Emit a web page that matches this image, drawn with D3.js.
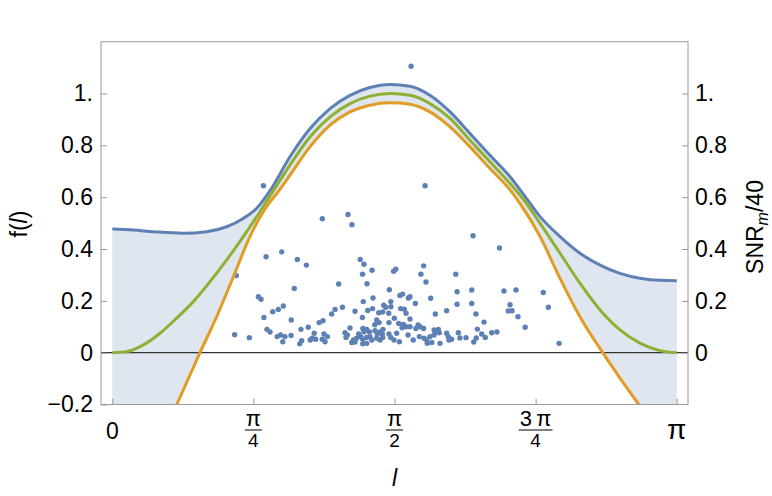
<!DOCTYPE html>
<html>
<head>
<meta charset="utf-8">
<script src="https://cdn.jsdelivr.net/npm/d3@7"></script>
<style>
    body { margin: 0; background: #fff; }
    text { font-family: "Liberation Sans", Arial, sans-serif; fill: #000; }
</style>
</head>
<body>
<div id="vis"></div>
<script>
// curves, [l in radians, value]
const upperCurve = [
    [0, 0.477], [0.117, 0.473], [0.228, 0.467], [0.395, 0.461], [0.525, 0.467],
    [0.637, 0.486], [0.729, 0.518], [0.804, 0.557], [0.878, 0.625], [0.989, 0.756],
    [1.101, 0.865], [1.212, 0.942], [1.323, 0.993], [1.434, 1.023], [1.546, 1.035],
    [1.657, 1.028], [1.768, 0.993], [1.880, 0.929], [1.991, 0.846], [2.102, 0.762],
    [2.214, 0.679], [2.290, 0.610], [2.381, 0.525], [2.492, 0.448], [2.603, 0.384],
    [2.715, 0.338], [2.826, 0.306], [2.937, 0.287], [3.048, 0.279], [3.142, 0.278]
];

const middleCurve = [
    [0, 0], [0.080, 0.004], [0.173, 0.030], [0.266, 0.075], [0.358, 0.133],
    [0.451, 0.197], [0.544, 0.274], [0.637, 0.358], [0.729, 0.448], [0.822, 0.544],
    [0.878, 0.605], [0.989, 0.724], [1.101, 0.833], [1.212, 0.910], [1.323, 0.961],
    [1.434, 0.990], [1.546, 1.000], [1.657, 0.993], [1.768, 0.961], [1.880, 0.904],
    [1.991, 0.820], [2.102, 0.737], [2.214, 0.653], [2.288, 0.592], [2.381, 0.499],
    [2.492, 0.384], [2.603, 0.268], [2.715, 0.165], [2.826, 0.088], [2.937, 0.037],
    [3.048, 0.008], [3.142, 0]
];

const lowerCurve = [
    [0.358, -0.201], [0.488, 0], [0.581, 0.139], [0.674, 0.293], [0.766, 0.448],
    [0.841, 0.545], [0.933, 0.630], [0.989, 0.685], [1.101, 0.795], [1.212, 0.878],
    [1.323, 0.929], [1.434, 0.955], [1.546, 0.964], [1.657, 0.959], [1.768, 0.929],
    [1.880, 0.871], [1.991, 0.794], [2.102, 0.711], [2.214, 0.628], [2.270, 0.575],
    [2.381, 0.448], [2.492, 0.287], [2.603, 0.139], [2.730, 0], [2.826, -0.098],
    [2.932, -0.201]
];

// measured SNR_m / 40 per source
const snrPoints = [
    [1.663, 1.105], [1.741, 0.644], [0.841, 0.644], [1.169, 0.517], [1.312, 0.533],
    [1.334, 0.494], [2.008, 0.451], [2.155, 0.404], [0.856, 0.370], [0.943, 0.389],
    [1.030, 0.360], [1.080, 0.338], [0.690, 0.298], [1.013, 0.248], [1.260, 0.265],
    [0.813, 0.216], [0.828, 0.206], [0.952, 0.180], [0.924, 0.167], [0.893, 0.158],
    [0.844, 0.136], [1.281, 0.175], [1.240, 0.167], [1.221, 0.149], [0.996, 0.126],
    [1.173, 0.123], [1.151, 0.116], [0.861, 0.090], [0.878, 0.080], [1.091, 0.098],
    [1.050, 0.090], [0.681, 0.069], [0.763, 0.058], [0.918, 0.062], [0.937, 0.068],
    [0.961, 0.062], [0.995, 0.066], [0.949, 0.042], [1.124, 0.075], [1.113, 0.056],
    [1.132, 0.052], [1.102, 0.049], [1.054, 0.046], [1.043, 0.034], [1.178, 0.072],
    [1.197, 0.062], [1.169, 0.052], [1.184, 0.042], [1.380, 0.360], [1.401, 0.341],
    [1.446, 0.318], [1.393, 0.303], [1.418, 0.266], [1.578, 0.322], [1.566, 0.314],
    [1.542, 0.243], [1.451, 0.211], [1.397, 0.197], [1.601, 0.221], [1.733, 0.335],
    [1.718, 0.303], [1.746, 0.273], [1.616, 0.226], [1.648, 0.211], [1.657, 0.216],
    [1.772, 0.210], [1.550, 0.197], [1.687, 0.190], [1.351, 0.160], [1.422, 0.163],
    [1.449, 0.170], [1.511, 0.183], [1.522, 0.175], [1.551, 0.177], [1.605, 0.170],
    [1.625, 0.168], [1.483, 0.154], [1.505, 0.157], [1.539, 0.152], [1.635, 0.152],
    [1.861, 0.162], [1.798, 0.149], [1.392, 0.136], [1.570, 0.133], [1.657, 0.130],
    [1.472, 0.126], [1.485, 0.116], [1.461, 0.108], [1.540, 0.116], [1.594, 0.113],
    [1.620, 0.109], [1.635, 0.100], [1.657, 0.100], [1.613, 0.096], [1.702, 0.107],
    [1.713, 0.100], [1.690, 0.093], [1.733, 0.093], [1.323, 0.095], [1.395, 0.093],
    [1.416, 0.090], [1.401, 0.081], [1.431, 0.080], [1.462, 0.085], [1.490, 0.080],
    [1.475, 0.072], [1.507, 0.090], [1.503, 0.072], [1.791, 0.088], [1.815, 0.090],
    [1.798, 0.079], [1.820, 0.077], [1.295, 0.077], [1.308, 0.068], [1.301, 0.059],
    [1.372, 0.072], [1.383, 0.062], [1.360, 0.056], [1.394, 0.052], [1.416, 0.059],
    [1.434, 0.062], [1.444, 0.049], [1.540, 0.072], [1.550, 0.059], [1.583, 0.075],
    [1.568, 0.049], [1.646, 0.068], [1.709, 0.062], [1.735, 0.056], [1.750, 0.049],
    [1.768, 0.062], [1.791, 0.068], [1.342, 0.049], [1.351, 0.041], [1.333, 0.039],
    [1.394, 0.034], [1.416, 0.036], [1.472, 0.056], [1.490, 0.049], [1.505, 0.059],
    [1.598, 0.042], [1.675, 0.049], [1.778, 0.039], [1.753, 0.036], [1.824, 0.036],
    [1.912, 0.303], [1.919, 0.235], [2.001, 0.242], [2.180, 0.238], [2.247, 0.242],
    [2.399, 0.232], [1.919, 0.187], [2.001, 0.190], [2.214, 0.185], [2.204, 0.161],
    [2.225, 0.162], [2.427, 0.175], [2.024, 0.149], [2.258, 0.139], [2.069, 0.118],
    [2.298, 0.098], [2.032, 0.091], [1.926, 0.077], [2.112, 0.077], [2.141, 0.080],
    [2.056, 0.072], [1.861, 0.075], [1.870, 0.062], [1.889, 0.052], [1.874, 0.049],
    [1.935, 0.057], [1.969, 0.058], [2.026, 0.057], [2.012, 0.041], [2.076, 0.059],
    [2.487, 0.036]
];

// ticks
const yTicksLeft = [-0.2, 0, 0.2, 0.4, 0.6, 0.8, 1];
const yTicksRight = [0, 0.2, 0.4, 0.6, 0.8, 1];
const yTickText = d => d === 1 ? "1." : d < 0 ? "\u2212" + Math.abs(d) : String(d);
const xTicks = [0, Math.PI / 4, Math.PI / 2, 3 * Math.PI / 4, Math.PI];
const xTickNum = ["0", "\u03c0", "\u03c0", "3\u2009\u03c0", "\u03c0"];
const xTickDen = [null, "4", "2", "4", null];

const width = 772;
const height = 496;
const plot = { left: 101, right: 688, top: 41.7, bottom: 404.5 };

const BLUE = "#5e81b5", ORANGE = "#e19c24", GREEN = "#8fb032";

const svg = d3.select("#vis").append("svg")
    .attr("width", width)
    .attr("height", height);

const x = d3.scaleLinear()
    .domain([-0.02 * Math.PI, 1.02 * Math.PI])
    .range([plot.left, plot.right]);

const y = d3.scaleLinear()
    .domain([-0.2, 1.2])
    .range([plot.bottom, plot.top]);

const defs = svg.append("defs");
defs.append("clipPath").attr("id", "plot-clip")
    .append("rect")
    .attr("x", plot.left).attr("y", plot.top)
    .attr("width", plot.right - plot.left)
    .attr("height", plot.bottom - plot.top);

const line = d3.line()
    .x(d => x(d[0]))
    .y(d => y(d[1]))
    .curve(d3.curveMonotoneX);

// clip region = everything above the orange curve, so the fill sits between blue and orange
const lowerPath = line(lowerCurve).replace(/^M/, "L");
defs.append("clipPath").attr("id", "above-lower")
    .append("path")
    .attr("d", `M${plot.left},${plot.bottom + 20}` + lowerPath +
        `L${plot.right},${plot.bottom + 20}L${plot.right},${plot.top}L${plot.left},${plot.top}Z`);

const g = svg.append("g").attr("clip-path", "url(#plot-clip)");

const area = d3.area()
    .x(d => x(d[0]))
    .y0(y(-0.2))
    .y1(d => y(d[1]))
    .curve(d3.curveMonotoneX);

g.append("g").attr("clip-path", "url(#above-lower)")
    .append("path")
    .attr("d", area(upperCurve))
    .attr("fill", "#dfe6f0");

// zero line
g.append("line")
    .attr("x1", plot.left).attr("x2", plot.right)
    .attr("y1", y(0)).attr("y2", y(0))
    .attr("stroke", "#333")
    .attr("stroke-width", 1.3);

g.append("g")
    .selectAll("circle")
    .data(snrPoints)
    .join("circle")
    .attr("cx", d => x(d[0]))
    .attr("cy", d => y(d[1]))
    .attr("r", 2.7)
    .attr("fill", BLUE);

[[upperCurve, BLUE], [middleCurve, GREEN], [lowerCurve, ORANGE]].forEach(([data, color]) => {
    g.append("path")
        .attr("d", line(data))
        .attr("fill", "none")
        .attr("stroke", color)
        .attr("stroke-width", 3);
});

// axes (ticks point inward, frame drawn separately)
const styleAxis = sel => {
    sel.select(".domain").remove();
    sel.selectAll(".tick line").attr("stroke", "#999").attr("stroke-width", 1);
    sel.selectAll(".tick text").attr("font-size", 23).attr("fill", "#000")
        .attr("font-family", '"Liberation Sans", Arial, sans-serif');
};

svg.append("g")
    .attr("transform", `translate(${plot.left},0)`)
    .call(d3.axisLeft(y).tickValues(yTicksLeft).tickFormat(yTickText)
        .tickSizeInner(-6).tickSizeOuter(0).tickPadding(8))
    .call(styleAxis);

svg.append("g")
    .attr("transform", `translate(${plot.right},0)`)
    .call(d3.axisRight(y).tickValues(yTicksRight).tickFormat(yTickText)
        .tickSizeInner(-6).tickSizeOuter(0).tickPadding(7))
    .call(styleAxis);

svg.append("g")
    .attr("transform", `translate(0,${plot.bottom})`)
    .call(d3.axisBottom(x).tickValues(xTicks).tickFormat("")
        .tickSizeInner(-6).tickSizeOuter(0))
    .call(styleAxis);

// frame
svg.append("rect")
    .attr("x", plot.left).attr("y", plot.top)
    .attr("width", plot.right - plot.left)
    .attr("height", plot.bottom - plot.top)
    .attr("fill", "none")
    .attr("stroke", "#999")
    .attr("stroke-width", 1);

// x tick labels, fractions of pi
const xLab = svg.append("g");
xTicks.forEach((t, i) => {
    const cx = x(t);
    if (xTickDen[i] === null) {
        xLab.append("text")
            .attr("x", cx).attr("y", 439)
            .attr("text-anchor", "middle")
            .attr("font-size", i === 0 ? 23 : 28)
            .text(xTickNum[i]);
        return;
    }
    const num = xLab.append("text")
        .attr("x", cx).attr("y", 426)
        .attr("text-anchor", "middle")
        .attr("font-size", 22)
        .text(xTickNum[i]);
    const w = num.node().getComputedTextLength();
    xLab.append("line")
        .attr("x1", cx - w / 2 - 1).attr("x2", cx + w / 2 + 1)
        .attr("y1", 430).attr("y2", 430)
        .attr("stroke", "#000").attr("stroke-width", 1);
    xLab.append("text")
        .attr("x", cx).attr("y", 447)
        .attr("text-anchor", "middle")
        .attr("font-size", 19)
        .text(xTickDen[i]);
});

// axis titles
svg.append("text")
    .attr("x", x(Math.PI / 2)).attr("y", 486)
    .attr("text-anchor", "middle")
    .attr("font-size", 23)
    .attr("font-style", "italic")
    .text("l");

const fLabel = svg.append("text")
    .attr("transform", `translate(27,224) rotate(-90)`)
    .attr("text-anchor", "middle")
    .attr("font-size", 23);
fLabel.append("tspan").text("f(");
fLabel.append("tspan").attr("font-style", "italic").text("l");
fLabel.append("tspan").text(")");

const snrLabel = svg.append("text")
    .attr("transform", `translate(763,227) rotate(-90)`)
    .attr("text-anchor", "middle")
    .attr("font-size", 23);
snrLabel.append("tspan").text("SNR");
snrLabel.append("tspan").attr("font-style", "italic").attr("font-size", 16).attr("dy", 5).text("m");
snrLabel.append("tspan").attr("dy", -5).text("/40");
</script>
</body>
</html>
